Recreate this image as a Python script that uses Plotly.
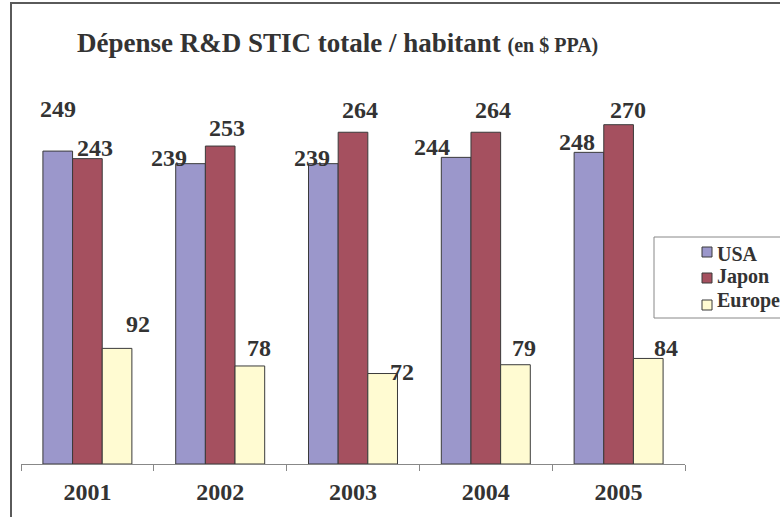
import plotly.graph_objects as go

years = ["2001", "2002", "2003", "2004", "2005"]
series_names = ["USA", "Japon", "Europe"]
usa = [249, 239, 239, 244, 248]
japon = [243, 253, 264, 264, 270]
europe = [92, 78, 72, 79, 84]
values = [usa, japon, europe]
colors = ["#9b97cb", "#a5505f", "#fffbd2"]

# label pixel offsets relative to the bar top centre (style only)
label_dx = [[0, -22, -11, -24, -12],
            [8, 7, 7, 7, 9],
            [21, 9, 19, 9, 18]]
label_dy = [[42, 6, 6, 10, 10],
            [11, 18, 22, 22, 15],
            [24, 18, 2, 17, 10]]

W, H = 780, 517
ML, MR, MT, MB = 21, 95, 87, 53
PW, PH = W - ML - MR, H - MT - MB
BARGAP = 0.33

FONT = "Liberation Serif, Times New Roman, serif"
TXT = "#333333"


def px_x(p):
    return (p - ML) / PW


def px_y(p):
    return (H - MB - p) / PH


fig = go.Figure()
for name, vals, col in zip(series_names, values, colors):
    fig.add_trace(go.Bar(
        x=years, y=vals, name=name, showlegend=False,
        marker=dict(color=col, line=dict(color="#3a3a3a", width=1)),
    ))

w = (1 - BARGAP) / 3
annotations = []
for j, vals in enumerate(values):
    for i, v in enumerate(vals):
        annotations.append(dict(
            x=i + (j - 1) * w, y=v, xref="x", yref="y",
            text=f"<b>{v}</b>", showarrow=False,
            xshift=label_dx[j][i], yshift=label_dy[j][i],
            xanchor="center", yanchor="middle",
            font=dict(family=FONT, size=24, color=TXT),
        ))

shapes = [
    # outer frame (left and top)
    dict(type="line", xref="paper", yref="paper",
         x0=px_x(11), x1=px_x(11), y0=px_y(2), y1=px_y(H + 5),
         line=dict(color="#5a5a5a", width=2)),
    dict(type="line", xref="paper", yref="paper",
         x0=px_x(10), x1=px_x(W + 5), y0=px_y(3), y1=px_y(3),
         line=dict(color="#5a5a5a", width=2)),
    # legend box
    dict(type="rect", xref="paper", yref="paper",
         x0=px_x(654), x1=px_x(W + 20), y0=px_y(237), y1=px_y(318),
         line=dict(color="#888888", width=1), fillcolor="white", layer="below"),
]

# manual legend
leg_sq_y = [252, 278, 305]
leg_txt_y = [254, 276, 300]
for name, col, sy, ty in zip(series_names, colors, leg_sq_y, leg_txt_y):
    shapes.append(dict(type="rect", xref="paper", yref="paper",
                       x0=px_x(702), x1=px_x(712), y0=px_y(sy + 5), y1=px_y(sy - 5),
                       line=dict(color="#3a3a3a", width=1), fillcolor=col))
    annotations.append(dict(
        x=px_x(715), y=px_y(ty), xref="paper", yref="paper",
        text=f"<b>{name}</b>", showarrow=False, xanchor="left", yanchor="middle",
        font=dict(family=FONT, size=20, color=TXT),
    ))

fig.update_layout(
    width=W, height=H,
    margin=dict(l=ML, r=MR, t=MT, b=MB, pad=0),
    paper_bgcolor="white", plot_bgcolor="white",
    barmode="group", bargap=BARGAP, bargroupgap=0,
    title=dict(
        text="<b>Dépense R&amp;D STIC totale / habitant</b> <b><span style='font-size:20px'>(en $ PPA)</span></b>",
        xref="container", yref="container", x=77 / W, y=1 - 43 / H,
        xanchor="left", yanchor="middle",
        font=dict(family=FONT, size=27, color=TXT),
    ),
    xaxis=dict(
        type="category", showline=True, linecolor="#888888", linewidth=1,
        ticks="outside", ticklen=6, tickcolor="#888888", tickson="boundaries",
        showgrid=False, zeroline=False, ticklabelstandoff=6,
        tickfont=dict(family=FONT, size=24, color=TXT),
        tickprefix="<b>", ticksuffix="</b>",
    ),
    yaxis=dict(range=[0, 300], visible=False, showgrid=False, zeroline=False),
    showlegend=False,
    annotations=annotations,
    shapes=shapes,
)

fig.write_html("out.html")
